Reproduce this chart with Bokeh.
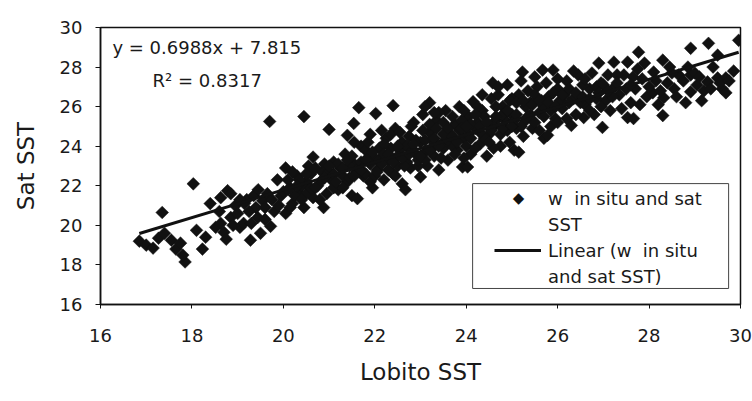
from bokeh.plotting import figure
from bokeh.models import Range1d, Legend, LegendItem, Label, FixedTicker, BoxAnnotation
from bokeh.embed import file_html
from bokeh.resources import INLINE

# ---- data ----
lobito_sst = [
    16.85, 17.00, 17.15, 17.27, 17.35, 17.40, 17.55, 17.65, 17.75, 17.85,
    17.80, 18.03, 18.10, 18.23, 18.30, 18.40, 18.52, 18.63, 18.63, 18.70,
    18.78, 18.85, 18.85, 18.95, 19.00, 19.05, 19.13, 19.20, 19.28, 19.35,
    19.44, 19.50, 19.55, 19.65, 19.72, 19.70, 19.80, 19.87, 19.95, 20.05,
    20.05, 20.15, 20.20, 20.30, 20.35, 20.45, 20.45, 20.50, 20.55, 20.65,
    20.65, 20.75, 20.85, 20.88, 20.95, 21.00, 21.05, 21.10, 21.20, 21.25,
    21.35, 21.40, 21.40, 21.50, 21.54, 21.55, 21.62, 21.65, 21.70, 21.75,
    21.85, 21.90, 21.95, 22.02, 22.05, 22.10, 22.20, 22.25, 22.30, 22.40,
    22.40, 22.45, 22.55, 22.60, 22.67, 22.70, 22.75, 22.78, 22.85, 22.90,
    23.00, 23.00, 23.05, 23.15, 23.20, 23.20, 23.30, 23.35, 23.40, 23.45,
    23.55, 23.60, 23.65, 23.75, 23.80, 23.85, 23.92, 23.95, 24.03, 24.05,
    24.10, 24.15, 24.20, 24.30, 24.35, 24.45, 24.50, 24.55, 24.58, 24.65,
    24.75, 24.80, 24.90, 24.90, 25.00, 25.05, 25.15, 25.15, 25.23, 25.25,
    25.30, 25.40, 25.45, 25.55, 25.60, 25.67, 25.70, 25.78, 25.80, 25.90,
    25.95, 26.00, 26.10, 26.20, 26.30, 26.35, 26.45, 26.57, 26.60, 26.70,
    26.80, 26.90, 26.95, 26.98, 27.05, 27.15, 27.23, 27.25, 27.35, 27.45,
    27.53, 27.53, 27.60, 27.66, 27.70, 27.77, 27.85, 27.95, 28.08, 28.10,
    28.20, 28.30, 28.30, 28.32, 28.40, 28.55, 28.65, 28.80, 28.91, 28.91,
    28.91, 29.05, 29.15, 29.28, 29.30, 29.40, 29.50, 29.60, 29.68, 29.68,
    29.85, 29.96,
    19.15, 19.40, 19.60, 19.90, 20.10, 20.25, 20.40, 20.60, 20.80, 20.90,
    21.10, 21.30, 21.45, 21.60, 21.80, 21.90, 22.00, 22.15, 22.35, 22.50,
    22.60, 22.80, 22.95, 23.10, 23.25, 23.40, 23.50, 23.70, 23.90, 24.00,
    24.25, 24.40, 24.60, 24.70, 24.85, 25.00, 25.10, 25.35, 25.50, 25.65,
    25.85, 26.00, 26.15, 26.40, 26.55, 26.75, 26.85, 27.10, 27.40, 27.75,
    28.00, 28.45, 28.75, 29.20, 29.50,
    19.05, 19.25, 19.45, 19.60, 19.75, 19.30, 18.90, 18.60, 18.75,
    20.00, 20.20, 20.35, 20.50, 20.60, 20.70, 20.85, 21.00, 20.15, 20.40,
    21.10, 21.20, 21.30, 21.45, 21.50, 21.65, 21.70, 21.80, 21.90, 22.00,
    21.55, 21.85,
    22.10, 22.20, 22.30, 22.35, 22.50, 22.55, 22.65, 22.70, 22.80, 22.90,
    22.95, 22.45, 22.20,
    23.05, 23.10, 23.20, 23.30, 23.35, 23.45, 23.50, 23.60, 23.70, 23.75,
    23.85, 23.95, 23.95, 23.30, 23.10,
    24.05, 24.10, 24.20, 24.25, 24.30, 24.40, 24.50, 24.60, 24.65, 24.75,
    24.80, 24.95, 24.95, 24.35, 24.70,
    25.05, 25.10, 25.20, 25.30, 25.40, 25.50, 25.60, 25.70, 25.75, 25.85,
    25.90, 26.00, 25.20, 25.50,
    26.05, 26.20, 26.25, 26.35, 26.50, 26.60, 26.70, 26.85, 26.95,
    27.00, 27.20, 27.30, 27.50, 27.65, 27.80, 27.90,
    28.15, 28.25, 28.50, 28.60, 28.85, 29.00, 29.10, 29.35, 29.55, 29.75,
    20.10, 20.30, 20.50, 20.70, 20.90, 21.00, 21.15, 21.30, 21.40, 21.55,
    21.70, 21.80, 21.95, 22.05, 22.15, 22.30, 22.40, 22.50, 22.60, 22.75,
    22.85, 23.00, 23.10, 23.20, 23.30, 23.40, 23.50, 23.60, 23.70, 23.80,
    23.90, 24.00, 24.10, 24.20, 24.30, 24.45, 24.55, 24.65, 24.80, 24.90,
    25.00, 25.10, 25.25, 25.35, 25.45, 25.60, 25.70, 25.80, 25.95, 26.10,
    26.25, 26.40, 26.55, 26.70, 26.90, 27.10, 27.30, 27.60,
]
sat_sst = [
    19.20, 19.00, 18.85, 19.35, 20.65, 19.60, 19.25, 18.80, 19.10, 18.15,
    18.50, 22.10, 19.75, 18.80, 19.40, 21.10, 19.90, 21.40, 20.10, 19.65,
    21.75, 20.40, 21.60, 21.00, 20.60, 19.90, 20.10, 21.30, 19.25, 21.50,
    20.40, 19.60, 21.25, 21.60, 19.95, 25.25, 20.70, 22.30, 21.50, 22.90,
    20.60, 21.90, 21.10, 22.50, 21.60, 25.50, 20.90, 22.20, 23.00, 23.45,
    21.40, 22.00, 22.70, 20.90, 21.60, 24.85, 22.30, 23.20, 21.80, 22.90,
    23.60, 24.55, 22.20, 21.50, 25.15, 23.10, 21.35, 25.95, 24.00, 22.50,
    23.40, 24.60, 21.90, 25.65, 22.80, 23.90, 22.30, 24.40, 23.30, 26.05,
    22.60, 24.90, 23.80, 22.10, 21.80, 23.20, 24.50, 22.90, 25.20, 23.60,
    22.45, 24.20, 25.60, 23.00, 26.20, 24.70, 23.50, 25.30, 22.80, 24.10,
    25.80, 23.30, 24.60, 25.10, 23.80, 26.00, 22.95, 24.40, 22.95, 25.50,
    23.60, 26.25, 24.90, 24.10, 25.80, 23.50, 24.60, 26.40, 27.20, 25.30,
    24.00, 26.00, 27.10, 24.80, 25.60, 23.80, 23.70, 26.60, 27.75, 24.50,
    25.30, 26.20, 24.90, 27.00, 25.70, 27.85, 24.40, 24.55, 26.50, 27.85,
    25.40, 26.90, 25.90, 27.30, 25.05, 26.40, 27.60, 25.45, 26.10, 26.90,
    25.60, 28.20, 27.20, 24.95, 26.30, 25.80, 28.25, 27.00, 26.60, 27.60,
    28.25, 25.45, 26.20, 25.40, 26.90, 28.75, 27.40, 26.50, 26.70, 27.75,
    26.10, 28.35, 25.55, 26.45, 27.20, 26.90, 27.60, 26.20, 28.95, 27.60,
    26.75, 27.10, 26.30, 27.25, 29.20, 28.00, 27.45, 26.90, 27.45, 26.70,
    27.80, 29.35,
    21.10, 20.90, 20.30, 21.00, 22.30, 21.50, 22.00, 22.60, 21.30, 23.10,
    21.90, 22.50, 23.00, 22.70, 23.80, 22.20, 23.40, 24.80, 23.90, 23.00,
    24.20, 23.90, 23.00, 23.70, 24.30, 25.70, 23.90, 24.00, 25.30, 24.00,
    25.20, 24.40, 23.90, 26.60, 25.30, 26.40, 24.90, 26.80, 25.20, 26.30,
    25.00, 27.40, 26.60, 25.60, 27.10, 27.70, 26.40, 27.60, 25.90, 27.90,
    27.00, 28.00, 27.30, 26.80, 28.60,
    21.30, 20.70, 21.80, 20.90, 21.30, 20.10, 20.00, 20.70, 19.30,
    21.70, 22.70, 22.30, 21.60, 21.90, 22.90, 22.30, 22.70, 20.90, 21.30,
    22.60, 23.10, 21.90, 22.40, 23.50, 22.90, 23.20, 22.60, 23.10, 22.50,
    24.20, 24.20,
    23.30, 24.10, 22.80, 24.60, 23.50, 24.70, 23.00, 24.00, 25.00, 24.30,
    23.30, 22.50, 23.60,
    24.80, 23.30, 25.10, 24.00, 24.90, 23.40, 25.20, 24.30, 25.50, 23.60,
    24.80, 23.40, 25.80, 25.70, 26.00,
    24.60, 25.10, 23.90, 26.00, 24.70, 25.50, 24.20, 25.00, 26.00, 24.60,
    25.60, 24.20, 26.30, 26.60, 27.00,
    25.30, 26.20, 25.00, 26.00, 25.60, 26.60, 24.80, 26.00, 27.20, 25.80,
    26.70, 25.20, 27.30, 27.50,
    26.30, 25.40, 26.90, 27.80, 26.20, 27.40, 25.80, 27.00, 26.00,
    27.10, 26.50, 27.60, 26.90, 27.50, 26.10, 28.20,
    27.30, 26.80, 27.70, 26.50, 28.00, 27.70, 27.50, 26.90, 27.20, 27.30,
    21.80, 22.00, 22.60, 21.90, 22.40, 23.00, 22.20, 22.90, 23.30, 22.50,
    22.80, 23.30, 23.70, 22.70, 23.10, 23.60, 23.20, 24.00, 23.40, 23.60,
    24.10, 23.50, 24.30, 23.80, 24.40, 24.00, 24.60, 24.90, 24.50, 24.20,
    24.90, 25.00, 24.40, 25.60, 25.00, 25.20, 24.80, 25.50, 24.90, 25.80,
    25.00, 25.60, 26.30, 25.50, 26.10, 26.30, 25.50, 26.20, 26.00, 26.60,
    26.20, 26.70, 26.50, 26.40, 26.70, 26.80, 27.20, 27.10,
]

fit_slope = 0.6988
fit_intercept = 7.815
fit_r2 = 0.8317

x_ticks = [16, 18, 20, 22, 24, 26, 28, 30]
y_ticks = [16, 18, 20, 22, 24, 26, 28, 30]

x_title = "Lobito SST"
y_title = "Sat SST"
legend_lines = ["w\u00a0 in situ and sat", "SST",
                "Linear (w\u00a0 in situ", "and sat SST)"]

FONT = "DejaVu Sans"
INK = "#1a1a1a"

p = figure(width=752, height=401, output_backend="svg", toolbar_location=None,
           x_range=Range1d(16, 30), y_range=Range1d(16, 30),
           min_border_left=100, min_border_right=12,
           min_border_top=27, min_border_bottom=97)

p.background_fill_color = "white"
p.border_fill_color = "white"
p.outline_line_color = "#111111"
p.outline_line_width = 1.5
p.xgrid.visible = False
p.ygrid.visible = False

for ax in (p.xaxis[0], p.yaxis[0]):
    ax.axis_line_color = "#111111"
    ax.axis_line_width = 1.5
    ax.major_tick_line_color = "#111111"
    ax.major_tick_in = 0
    ax.minor_tick_line_color = None
    ax.major_label_text_font = FONT
    ax.major_label_text_font_size = "18px"
    ax.major_label_text_color = INK
    ax.axis_label_text_font = FONT
    ax.axis_label_text_font_style = "normal"
    ax.axis_label_text_color = INK
    ax.axis_label_text_font_size = "23px"

p.xaxis[0].ticker = FixedTicker(ticks=x_ticks)
p.yaxis[0].ticker = FixedTicker(ticks=y_ticks)
p.xaxis[0].axis_label = x_title
p.yaxis[0].axis_label = y_title
p.xaxis[0].major_tick_out = 4
p.yaxis[0].major_tick_out = 5
p.xaxis[0].major_label_standoff = 20
p.yaxis[0].major_label_standoff = 13
p.xaxis[0].axis_label_standoff = 14
p.yaxis[0].axis_label_standoff = 18

# faint outer chart-area border, as in the scanned original
outer = BoxAnnotation(left=6, right=770, top=6, bottom=397,
                      left_units="canvas", right_units="canvas",
                      top_units="canvas", bottom_units="canvas",
                      fill_alpha=0.0, line_color="#8a8a8a", line_width=1.2,
                      level="underlay")
p.add_layout(outer)

pts = p.scatter(lobito_sst, sat_sst, marker="square", size=9, angle=0.785398,
                fill_color="#111111", line_color="#111111", line_width=0.5)

x_lo, x_hi = min(lobito_sst), max(lobito_sst)
fit_x = [x_lo, x_hi]
fit_y = [fit_slope * v + fit_intercept for v in fit_x]
trend = p.line(fit_x, fit_y, line_color="#111111", line_width=3)

eq = Label(x=16.26, y=29.0, text=f"y = {fit_slope}x + {fit_intercept}",
           text_font=FONT, text_font_size="18px", text_color=INK,
           text_baseline="middle", text_align="left")
r2 = Label(x=17.14, y=27.3, text=f"R\u00b2 = {fit_r2}",
           text_font=FONT, text_font_size="18px", text_color=INK,
           text_baseline="middle", text_align="left")
p.add_layout(eq)
p.add_layout(r2)

# legend frame (opaque, covers points like the original)
legend_box = BoxAnnotation(left=24.14, right=29.74, bottom=16.81, top=22.11,
                           fill_color="white", fill_alpha=1.0,
                           line_color="#444444", line_width=1, line_alpha=1.0)
p.add_layout(legend_box)

# legend sample marker (diamond symbol)
leg_symbol = Label(x=25.145, y=21.36, text="\u25c6", text_font=FONT,
                   text_font_size="15px", text_color="#111111",
                   text_align="center", text_baseline="middle")
p.add_layout(leg_symbol)

leg_blank0 = p.line(x=[], y=[], line_alpha=0)
leg_blank1 = p.line(x=[], y=[], line_alpha=0)
leg_blank2 = p.line(x=[], y=[], line_alpha=0)

legend = Legend(items=[LegendItem(label=legend_lines[0], renderers=[leg_blank0]),
                       LegendItem(label=legend_lines[1], renderers=[leg_blank1]),
                       LegendItem(label=legend_lines[2], renderers=[trend]),
                       LegendItem(label=legend_lines[3], renderers=[leg_blank2])],
                location=(394, 15))
legend.label_text_font = FONT
legend.label_text_font_size = "18px"
legend.label_text_color = INK
legend.glyph_width = 47
legend.glyph_height = 20
legend.label_height = 26
legend.label_standoff = 7
legend.padding = 0
legend.spacing = 0
legend.margin = 0
legend.border_line_color = None
legend.background_fill_alpha = 0.0
p.add_layout(legend, "center")

open("out.html", "w").write(file_html(p, INLINE))
